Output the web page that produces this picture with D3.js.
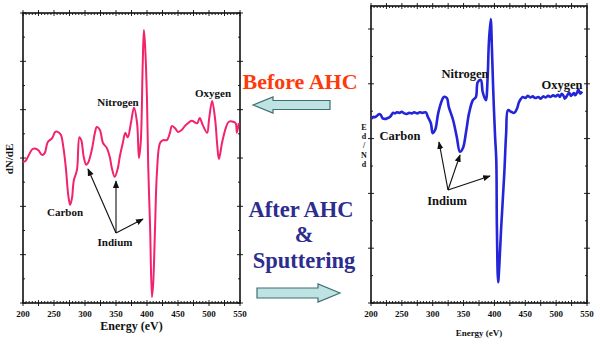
<!DOCTYPE html>
<html><head><meta charset="utf-8">
<script src="https://cdn.jsdelivr.net/npm/d3@7"></script>
<style>
html,body{margin:0;padding:0;background:#fff;}
</style></head>
<body><svg id="c" width="600" height="347" font-family="'Liberation Serif', 'Times New Roman', 'DejaVu Serif', serif" font-weight="bold"></svg>
<script>
// ---- data ----
const xTickLabels = [200, 250, 300, 350, 400, 450, 500, 550];
const energyBefore = [200,204,216,224,231,235,240,247,252,256,261,265,269,273,276,279,282,287,291,294,298,302,305,311,316,319,324,329,335,340,343,348,353,356,361,365,369,374,379,384,387,390,393,395,397,400,402,405,408,410,413,416,421,426,432,437,440,445,450,456,461,466,472,481,485,490,497,500,505,510,513,516,521,527,532,539,543,545,548];
const signalBefore = [-0.08,-0.06,0.19,0.17,0.06,0.10,0.33,0.41,0.54,0.54,0.48,0.23,-0.19,-0.77,-0.97,-0.83,-0.46,-0.25,0.43,0.37,0.02,-0.14,-0.10,0.17,0.52,0.64,0.58,0.31,0.21,0.02,-0.19,-0.39,-0.21,0.02,0.31,0.52,0.43,0.72,1.04,0.72,0.0,0.35,1.9,2.65,2.3,1.2,-0.19,-1.43,-2.88,-2.59,-1.43,-0.31,0.31,0.37,0.37,0.52,0.66,0.62,0.54,0.58,0.66,0.72,0.77,0.72,0.83,0.68,0.52,0.79,1.18,0.79,0.31,-0.02,0.31,0.62,0.75,0.75,0.72,0.52,0.72];
const energyAfter = [201,204,206,211,214,216,219,223,226,231,236,239,242,246,250,254,258,262,266,270,275,279,283,289,292,297,300,304,309,315,318,323,326,333,339,344,349,354,359,365,370,373,378,381,386,389,391,394,396,398,401,403,404,406,408,411,416,419,422,427,432,437,440,446,450,454,458,462,466,471,475,479,483,487,491,495,499,503,506,509,512,514,518,521,524,526,529,531,534,536,539,542];
const signalAfter = [3.36,3.40,3.39,3.43,3.45,3.43,3.37,3.36,3.37,3.40,3.47,3.46,3.48,3.47,3.49,3.46,3.45,3.47,3.46,3.48,3.46,3.48,3.47,3.48,3.40,3.28,3.10,3.16,3.47,3.70,3.76,3.74,3.58,3.34,3.03,2.76,2.83,3.12,3.47,3.70,3.76,4.03,4.07,3.85,3.70,4.12,4.75,5.18,4.62,3.9,3.05,2.61,1.39,0.38,0.7,1.39,2.37,3.10,3.52,3.49,3.47,3.56,3.67,3.76,3.74,3.78,3.75,3.77,3.74,3.76,3.73,3.77,3.75,3.78,3.76,3.79,3.77,3.80,3.76,3.82,3.78,3.73,3.79,3.84,3.78,3.80,3.83,3.79,3.84,3.90,3.82,3.86];

// ---- drawing ----
const svg = d3.select("#c");

function panel(cfg){
  const g = svg.append("g");
  const x = d3.scaleLinear().domain([200,550]).range([cfg.x0, cfg.x1]);
  const y = d3.scaleLinear().domain(cfg.yDomain).range([cfg.y1, cfg.y0]);
  const majorX = d3.range(200, 551, 25);
  const minorX = d3.range(200, 551, 5).filter(v => v % 25 !== 0);
  const majorY = cfg.yTicks;
  const minorY = [];
  for (let i=0;i<majorY.length-1;i++) minorY.push((majorY[i]+majorY[i+1])/2);
  const tk = g.append("g").attr("stroke","#222").attr("stroke-width",1);
  [cfg.y0, cfg.y1].forEach((yy,k)=>{
    const dir = k===0 ? 1 : -1;
    tk.selectAll(null).data(majorX).join("line")
      .attr("x1",d=>x(d)).attr("x2",d=>x(d)).attr("y1",yy-3).attr("y2",yy+3);
    tk.selectAll(null).data(minorX).join("line")
      .attr("x1",d=>x(d)).attr("x2",d=>x(d)).attr("y1",yy).attr("y2",yy+dir*2);
  });
  [cfg.x0, cfg.x1].forEach((xx,k)=>{
    const dir = k===0 ? 1 : -1;
    tk.selectAll(null).data(majorY).join("line")
      .attr("y1",d=>y(d)).attr("y2",d=>y(d)).attr("x1",xx-3).attr("x2",xx+3);
    tk.selectAll(null).data(minorY).join("line")
      .attr("y1",d=>y(d)).attr("y2",d=>y(d)).attr("x1",xx).attr("x2",xx+dir*2);
  });
  g.append("rect").attr("x",cfg.x0).attr("y",cfg.y0)
    .attr("width",cfg.x1-cfg.x0).attr("height",cfg.y1-cfg.y0)
    .attr("fill","none").attr("stroke","#111").attr("stroke-width",1.6);
  g.selectAll(null).data(xTickLabels).join("text")
    .attr("x",d=>x(d)).attr("y",cfg.y1+14).attr("text-anchor","middle")
    .attr("font-size",cfg.tickFont).attr("fill","#111").text(d=>d);
  g.append("text").attr("x",(cfg.x0+cfg.x1)/2).attr("y",cfg.titleY)
    .attr("text-anchor","middle").attr("font-size",cfg.titleFont).attr("fill","#111")
    .text("Energy (eV)");
  const line = d3.line().x(d=>x(d[0])).y(d=>y(d[1])).curve(d3.curveCatmullRom.alpha(0.5));
  g.append("path").datum(d3.zip(cfg.ex, cfg.sig)).attr("d",line)
    .attr("fill","none").attr("stroke",cfg.color).attr("stroke-width",cfg.lw)
    .attr("stroke-linejoin","round");
  return {g,x,y};
}

panel({x0:23,x1:240,y0:13,y1:303,yDomain:[-3,3],yTicks:[-3,-2,-1,0,1,2,3],
  ex:energyBefore,sig:signalBefore,color:"#f2226c",lw:2,tickFont:9,titleFont:12,titleY:330});
panel({x0:371,x1:587,y0:6,y1:303,yDomain:[0,5.42],yTicks:[0,1,2,3,4,5],
  ex:energyAfter,sig:signalAfter,color:"#2424d8",lw:2.6,tickFont:9,titleFont:9,titleY:336});

svg.append("text").attr("transform","translate(13,159) rotate(-90)")
  .attr("text-anchor","middle").attr("font-size",11).attr("fill","#111").text("dN/dE");
const vert = ["E","d","/","N","d"];
svg.selectAll(".vl").data(vert).join("text")
  .attr("x",364).attr("y",(d,i)=>130+i*9.2).attr("text-anchor","middle")
  .attr("font-size",8).attr("fill","#111").text(d=>d);

function label(txt,x,y,fs){
  svg.append("text").attr("x",x).attr("y",y).attr("text-anchor","middle")
    .attr("font-size",fs).attr("fill","#111").text(txt);
}
label("Nitrogen",118,106,11);
label("Oxygen",213,97,11);
label("Carbon",65,216,11);
label("Indium",115,246,11);
label("Nitrogen",465,78,12.5);
label("Oxygen",562,89,12.5);
label("Carbon",400,140,12.5);
label("Indium",447,205,12.5);

const defs = svg.append("defs");
defs.append("marker").attr("id","ah").attr("viewBox","0 0 10 10").attr("refX",9).attr("refY",5)
  .attr("markerWidth",7).attr("markerHeight",7).attr("orient","auto")
  .append("path").attr("d","M0,1 L10,5 L0,9 Z").attr("fill","#111");
function arrow(x1,y1,x2,y2){
  svg.append("line").attr("x1",x1).attr("y1",y1).attr("x2",x2).attr("y2",y2)
    .attr("stroke","#111").attr("stroke-width",1.1).attr("marker-end","url(#ah)");
}
arrow(116,233,88,169);
arrow(116,233,116,181);
arrow(116,233,143,219);
arrow(448,190,439,142);
arrow(448,190,460,155);
arrow(448,190,490,176);

svg.append("text").attr("x",300).attr("y",89).attr("text-anchor","middle")
  .attr("font-size",22).attr("fill","#ff3a0a").text("Before AHC");
svg.append("text").attr("x",301).attr("y",217).attr("text-anchor","middle")
  .attr("font-size",22.5).attr("fill","#2d2d8e").text("After AHC");
svg.append("text").attr("x",304).attr("y",242).attr("text-anchor","middle")
  .attr("font-size",22.5).attr("fill","#2d2d8e").text("&");
svg.append("text").attr("x",304).attr("y",268).attr("text-anchor","middle")
  .attr("font-size",22.5).attr("fill","#2d2d8e").text("Sputtering");

function blockArrow(tipX, tailX, cy, bodyH, headH, headL){
  const d = tipX < tailX ? 1 : -1;
  const hx = tipX + d*headL;
  const pts = [[tipX,cy],[hx,cy-headH/2],[hx,cy-bodyH/2],[tailX,cy-bodyH/2],
               [tailX,cy+bodyH/2],[hx,cy+bodyH/2],[hx,cy+headH/2]];
  svg.append("path").attr("d","M"+pts.map(p=>p.join(",")).join("L")+"Z")
    .attr("fill","#bfe3e3").attr("stroke","#3d6f72").attr("stroke-width",1.2);
}
blockArrow(253,330,105,9,16,20);
blockArrow(340,257,293,10,18,22);
</script></body></html>
